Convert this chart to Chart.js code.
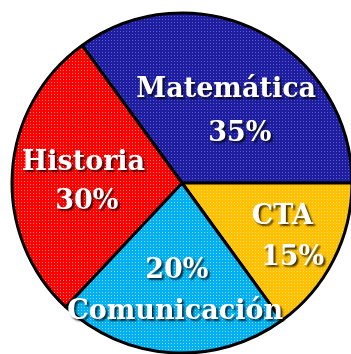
<!DOCTYPE html>
<html>
<head>
<meta charset="utf-8">
<script src="https://cdn.jsdelivr.net/npm/chart.js@4.4.1/dist/chart.umd.min.js"></script>
<style>
  html,body{margin:0;padding:0;background:#fff;overflow:hidden;width:351px;height:354px;}
  #wrap{position:absolute;left:2px;top:3px;width:360px;height:360px;}
</style>
</head>
<body>
<div id="wrap"><canvas id="pie" width="360" height="360"></canvas></div>
<script>
// --- Data ---
const categories = ['Matemática', 'CTA', 'Comunicación', 'Historia'];
const sliceValues = [35, 15, 22, 28];          // slice sizes as drawn in the picture
const percentLabels = ['35%', '15%', '20%', '30%']; // text printed on the slices
const baseColors = ['#1e1e9e', '#ffc000', '#00b0f0', '#ff0000'];
const dotColors = ['#5a5ad2', '#ffdc6e', '#8ad6f8', '#ff8a8a'];

// label placement as fraction of radius from the centre: [name, percent]
const labelPos = [
  {name:[0.26,-0.55], pct:[0.34,-0.29]},
  {name:[0.59, 0.20], pct:[0.65, 0.44]},
  {name:[-0.04,0.76], pct:[-0.03,0.52]},
  {name:[-0.58,-0.12], pct:[-0.56,0.11]}
];

// dotted fill like the original
function dotted(base, dot){
  const c = document.createElement('canvas');
  c.width = 3; c.height = 3;
  const g = c.getContext('2d');
  g.fillStyle = base; g.fillRect(0,0,3,3);
  g.fillStyle = dot; g.fillRect(1,1,1,1);
  return g.createPattern(c, 'repeat');
}

const labelPlugin = {
  id: 'sliceLabels',
  afterDatasetsDraw(chart){
    const ctx = chart.ctx;
    const arcs = chart.getDatasetMeta(0).data;
    ctx.save();
    ctx.font = 'bold 27px "DejaVu Serif", serif';
    ctx.textAlign = 'center';
    ctx.textBaseline = 'middle';
    ctx.shadowColor = 'rgba(0,0,0,0.75)';
    ctx.shadowOffsetX = 2;
    ctx.shadowOffsetY = 2;
    ctx.shadowBlur = 2;
    ctx.fillStyle = '#ffffff';
    arcs.forEach((arc, i) => {
      const R = arc.outerRadius, cx = arc.x, cy = arc.y;
      const p = labelPos[i];
      ctx.fillText(categories[i], cx + p.name[0]*R, cy + p.name[1]*R);
      ctx.fillText(percentLabels[i], cx + p.pct[0]*R, cy + p.pct[1]*R);
    });
    ctx.restore();
  }
};

new Chart(document.getElementById('pie'), {
  type: 'pie',
  data: {
    labels: categories,
    datasets: [{
      data: sliceValues,
      backgroundColor: baseColors.map((c,i) => dotted(c, dotColors[i])),
      borderColor: '#000',
      borderWidth: 3
    }]
  },
  options: {
    responsive: false,
    animation: false,
    rotation: -36,
    radius: 170,
    layout: {padding: 0},
    plugins: {legend: {display: false}, tooltip: {enabled: false}}
  },
  plugins: [labelPlugin]
});
</script>
</body>
</html>
